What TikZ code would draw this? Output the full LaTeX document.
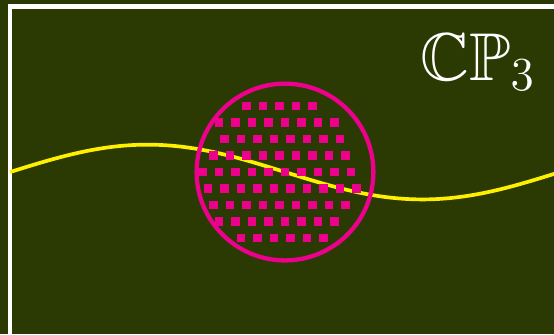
\RequirePackage{fix-cm}
\documentclass[tikz,border=0pt]{standalone}
\usepackage{amssymb}
\definecolor{board}{RGB}{43,58,3}
\definecolor{chalkpink}{RGB}{236,0,140}
\definecolor{chalkyellow}{RGB}{255,240,0}
\tikzset{
  rim/.style      = {draw=white, line width=1.5pt},
  sinewave/.style = {draw=chalkyellow, line width=1.2pt},
  patch/.style    = {draw=chalkpink, line width=1.4pt},
  dotsq/.style    = {fill=chalkpink},
  tag/.style      = {anchor=base west, inner sep=0pt, text=white,
                     font=\fontsize{22}{26}\selectfont}
}
\begin{document}
\begin{tikzpicture}
  \clip (-3.257,-1.851) rectangle (3.074,1.966);
  \fill[board] (-3.257,-1.851) rectangle (3.074,1.966);

  % frame
  \draw[rim] (-pi,-3) rectangle (4,1.889);

  % sine curve
  \draw[sinewave] plot[domain=-pi:3.3, samples=120] (\x,{-0.313*sin(\x r)});

  % disc + lattice points
  \draw[patch] (0,0) circle (1.01);
  \foreach \j/\a/\b in {-4/-1/3, -3/-3/4, -2/-3/4, -1/-4/4, 0/-5/4,
                        1/-5/4, 2/-5/3, 3/-5/2, 4/-4/1} {
    \foreach \i in {\a,...,\b}
      \fill[dotsq, shift={({\i*0.1886+\j*0.0629},{-\j*0.1886})}]
        (-0.048,-0.048) rectangle (0.048,0.048);
  }

  \node (space) [tag] at (1.54,1.051) {$\mathbb{C}\mathbb{P}_3$};
\end{tikzpicture}
\end{document}
